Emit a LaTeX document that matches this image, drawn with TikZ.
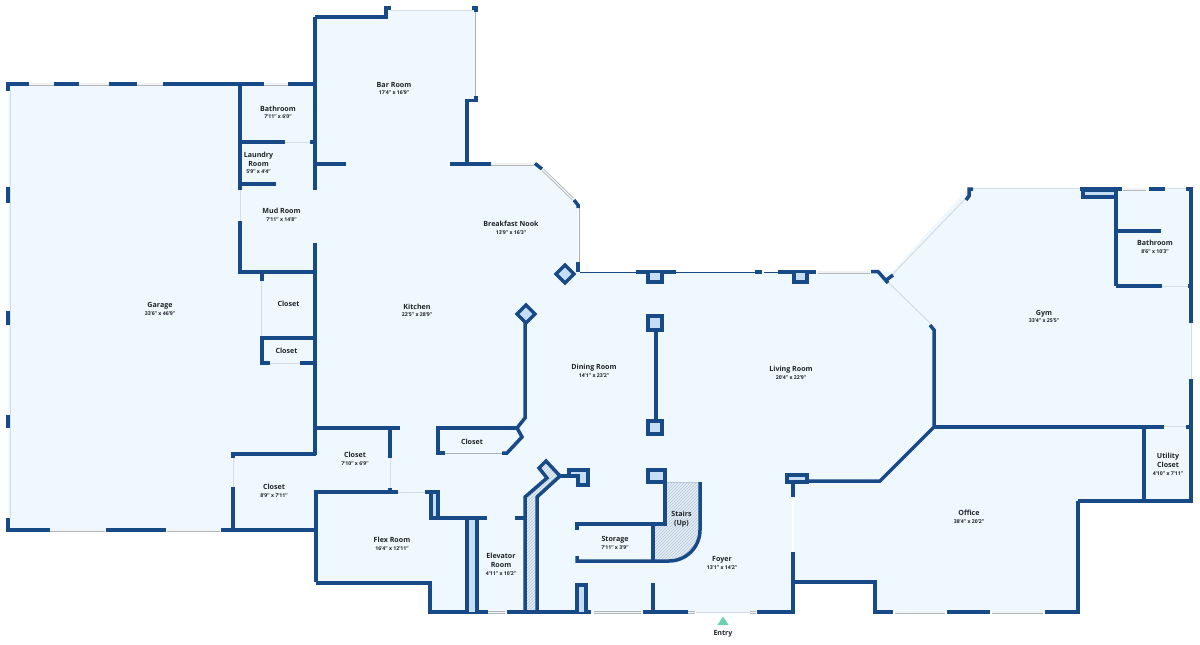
\documentclass[tikz,border=0pt]{standalone}
\usepackage{fontspec}
\setmainfont{Open Sans}
\usetikzlibrary{patterns}
\definecolor{wallc}{HTML}{174A87}
\definecolor{floorc}{HTML}{EFF8FE}
\definecolor{piec}{HTML}{C6DDF6}
\definecolor{hatchf}{HTML}{E2EDF7}
\definecolor{thinc}{HTML}{D6DCE1}
\definecolor{thind}{HTML}{A9B2BA}
\definecolor{winc}{HTML}{B4B8BC}
\definecolor{winl}{HTML}{F0F2F4}
\definecolor{hatchc}{HTML}{B7C7D6}
\definecolor{entryc}{HTML}{6CCFAE}
\definecolor{textc}{HTML}{20242A}
\tikzset{
  wall/.style={draw=wallc,line width=3.5pt,line cap=butt,line join=miter},
  fwall/.style={wall,fill=piec},
  thinw/.style={draw=thinc,line width=1pt},
  thindk/.style={draw=thind,line width=1pt},
  openw/.style={draw=white,line width=1.5pt},
  win/.style={draw=winc,line width=.9pt,double=winl,double distance=1.2pt},
  label/.style={text=textc,align=center,inner sep=0pt,font=\fontsize{7.1}{9}\selectfont\bfseries},
}
\newcommand{\dimtxt}[1]{\\[-1.6pt]{\fontsize{5.2}{6.2}\selectfont\bfseries #1}}
\begin{document}
\begin{tikzpicture}[x=1pt,y=-1pt]
\useasboundingbox (0,0) rectangle (1200,645);
% floor
\fill[floorc] (8,85) -- (315,85) -- (315,17) -- (387,17) -- (387,10) -- (475,10) -- (475,100) -- (467,100) -- (467,164) -- (538,164) -- (578,205) -- (578,272) -- (880,272) -- (892,272) -- (968,188) -- (1191,188) -- (1191,501) -- (1078,501) -- (1078,612) -- (875,612) -- (875,582) -- (793,582) -- (793,613) -- (430,613) -- (430,582) -- (316,582) -- (316,530) -- (8,530) -- cycle;
% thin walls (openings)
\draw[thinw] (10,90) -- (10,518);
\draw[thinw] (261,281) -- (261,338);
\draw[thinw] (270,363) -- (300,363);
\draw[thinw] (285,142) -- (310,142);
\draw[thinw] (391,10) -- (473,10);
\draw[thindk] (475,12) -- (475,96);
\draw[thindk] (579,205) -- (579,262);
\draw[wallc,line width=1pt] (580,272) -- (636,272);
\draw[wallc,line width=.8pt] (676,272.5) -- (755,272.5);
\draw[wallc,line width=.8pt] (764,272.5) -- (778,272.5);
\draw[thinw] (891,276) -- (965,199);
\draw[thinw] (889,283) -- (930,323);
\draw[thinw] (973,188.5) -- (1080,188.5);
\draw[thinw] (1165,188.5) -- (1186,188.5);
\draw[thinw] (1191,323) -- (1191,379);
\draw[thinw] (1162,286) -- (1188,286);
\draw[thinw] (1164,426) -- (1186,426);
\draw[thinw] (233,458) -- (233,487);
\draw[thinw] (390,458) -- (390,490);
\draw[thinw] (398,492) -- (425,492);
\draw[thindk] (445,453) -- (502,453);
\draw[thinw] (696,612.5) -- (750,612.5);
\draw[openw] (793,497) -- (793,552);
\draw[thinw] (240,190) -- (240,221);
% windows
\foreach \a/\b in {29/54,79/109,137/163,264/288}{\draw[win] (\a,84) -- (\b,84);}
\foreach \a/\b in {50/105,167/220}{\draw[win] (\a,530) -- (\b,530);}
\draw[win] (491,164) -- (534,164);
\draw[win] (543,170) -- (573,199);
\draw[win] (818,272) -- (870,272);
\draw[win] (1123,189) -- (1146,189);
\draw[win] (895,612) -- (945,612);
\draw[win] (992,612) -- (1043,612);
\draw[win] (594,612.5) -- (641,612.5);
\draw[win] (488,612.5) -- (505,612.5);
\draw[win] (688,612.5) -- (695,612.5);
\draw[win] (750,612.5) -- (756,612.5);
% garage
\draw[wall] (8,91) -- (8,84) -- (29,84);
\foreach \a/\b in {54/79,109/137,163/264,288/315}{\draw[wall] (\a,84) -- (\b,84);}
\foreach \a/\b in {187/203,311/325,415/428}{\draw[wall] (8,\a) -- (8,\b);}
\draw[wall] (8,518) -- (8,530) -- (50,530);
\draw[wall] (106,530) -- (166,530);
\draw[wall] (221,530) -- (316,530);
% service rooms
\draw[wall] (240,84) -- (240,190);
\draw[wall] (240,221) -- (240,272) -- (315,272);
\draw[wall] (315,17) -- (315,190);
\draw[wall] (315,243) -- (315,455);
\draw[wall] (240,142) -- (285,142);
\draw[wall] (310,142) -- (315,142);
\draw[wall] (240,184) -- (276,184);
\draw[wall] (315,164) -- (346,164);
\draw[wall] (262,272) -- (262,281);
\draw[wall] (315,338) -- (262,338) -- (262,363) -- (270,363);
\draw[wall] (300,363) -- (315,363);
% bar room
\draw[wall] (315,17) -- (386,17) -- (386,8) -- (391,8);
\draw[wall] (472,8) -- (476,8) -- (476,12);
\draw[wall] (476,96) -- (476,100.5) -- (467,100.5) -- (467,164);
\draw[wall] (450,164) -- (491,164);
\draw[wall] (535,163.5) -- (542,169);
\draw[wall] (574,200) -- (578,205) -- (578,208);
\draw[wall] (578,262) -- (578,272);
% closets left
\draw[wall] (233,487) -- (233,530);
\draw[wall] (233,458) -- (233,454) -- (316,454);
\draw[wall] (316,428) -- (400,428);
\draw[wall] (390,428) -- (390,458);
\draw[wall] (390,488) -- (390,492);
\draw[wall] (316,582) -- (316,492) -- (398,492);
\draw[wall] (316,583) -- (430,583) -- (430,612) -- (488,612);
% flex/elevator
\draw[fwall] (425,492) -- (438,492) -- (438,518) -- (431,518) -- (431,492);
\draw[wall] (431,518) -- (487,518);
\draw[wall] (515,518) -- (525,518);
\draw[fwall] (467,612) -- (467,518) -- (477,518) -- (477,612);
% shaft
\draw[wall,preaction={fill=hatchf},pattern=north east lines,pattern color=hatchc] (525,612) -- (525,497) -- (547,478) -- (539,468) -- (546,461) -- (560,476) -- (537,497) -- (537,612);
\draw[wall] (560,476) -- (570,476);
\draw[fwall] (569,476) -- (569,470) -- (588,470) -- (588,485) -- (578,485) -- (578,476) -- cycle;
\draw[wall] (507,612) -- (591,612);
\draw[fwall] (577,612) -- (577,585) -- (586,585) -- (586,612);
\draw[wall] (643,612) -- (688,612);
\draw[wall] (653,583) -- (653,612);
% kitchen closet + diamonds
\draw[wall] (445,453) -- (438,453) -- (438,428) -- (518,428);
\draw[wall] (502,453) -- (507,453) -- (522,437) -- (517,428) -- (525,418) -- (525,323);
\draw[fwall] (526,305) -- (535,314) -- (526,323) -- (517,314) -- cycle;
\draw[fwall] (565,265) -- (574,274) -- (565,283) -- (556,274) -- cycle;
% dining
\draw[wall] (636,272) -- (676,272);
\draw[fwall] (648,273) -- (648,282) -- (662,282) -- (662,273);
\draw[wall] (755,272) -- (762,272);
\draw[wall] (778,272) -- (816,272);
\draw[fwall] (794,273) -- (794,282) -- (807,282) -- (807,273);
\draw[wall] (656,330) -- (656,421);
\draw[fwall] (648,316) rectangle (662,330);
\draw[fwall] (648,421) rectangle (662,434);
\draw[wall] (871,271.5) -- (878,271.5) -- (888,283);
\draw[wall] (893,275) -- (885,281);
% stairs
\draw[draw=none,preaction={fill=hatchf},pattern=north east lines,pattern color=hatchc] (665,482) -- (700,482) -- (700,530) arc[start angle=0,end angle=90,radius=31] -- (653,561) -- (653,524) -- (665,524) -- cycle;
\draw[thinw,draw=hatchc] (665,482) -- (700,482);
\draw[wall] (700,482) -- (700,530) arc[start angle=0,end angle=90,radius=31] -- (577,561) -- (577,556);
\draw[wall] (665,482) -- (665,524) -- (577,524) -- (577,530);
\draw[wall] (653,524) -- (653,561);
\draw[fwall] (648,470) rectangle (665,482);
% foyer / right
\draw[wall] (757,612) -- (793,612) -- (793,552);
\draw[wall] (793,582) -- (875,582) -- (875,612) -- (893,612);
\draw[wall] (793,482) -- (793,497);
\draw[wall] (795,481) -- (880,481) -- (934,427);
\draw[fwall] (787,482) -- (787,475) -- (807,475) -- (807,482) -- cycle;
\draw[wall] (947,612) -- (990,612);
\draw[wall] (1045,612) -- (1078,612) -- (1078,501);
\draw[wall] (1078,501) -- (1191,501) -- (1191,379);
\draw[wall] (1144,427) -- (1144,501);
\draw[wall] (934,427) -- (1164,427);
\draw[wall] (1186,427) -- (1191,427);
\draw[wall] (930,325) -- (934,330) -- (934,427);
% gym
\draw[wall] (966,200) -- (969,196) -- (969,189) -- (973,189);
\draw[wall] (1080,189) -- (1122,189);
\draw[wall] (1149,189) -- (1165,189);
\draw[wall] (1186,189) -- (1191,189) -- (1191,323);
\draw[wall] (1116,189) -- (1116,286);
\draw[wall] (1116,231) -- (1161,231);
\draw[wall] (1116,286) -- (1162,286);
\draw[wall] (1188,286) -- (1191,286);
\draw[fwall] (1083,190) -- (1083,197) -- (1116,197) -- (1116,190) -- cycle;
% labels
\node[label] (lgarage) at (160,309) {Garage\dimtxt{33'6" x 46'9"}};
\node[label] (lbar) at (394,88.5) {Bar Room\dimtxt{17'4" x 16'9"}};
\node[label] (lbath1) at (278,112.5) {Bathroom\dimtxt{7'11" x 6'0"}};
\node[label] (llaundry) at (258.5,163) {Laundry\\Room\dimtxt{5'9" x 4'4"}};
\node[label] (lmud) at (281.5,215) {Mud Room\dimtxt{7'11" x 14'8"}};
\node[label] (lnook) at (511,228) {Breakfast Nook\dimtxt{13'9" x 16'3"}};
\node[label] (lkitchen) at (417,310.5) {Kitchen\dimtxt{22'5" x 28'9"}};
\node[label] (lc1) at (288.5,303.5) {Closet};
\node[label] (lc2) at (286.5,350.5) {Closet};
\node[label] (lc3) at (472,441.5) {Closet};
\node[label] (lc4) at (355,459) {Closet\dimtxt{7'10" x 6'9"}};
\node[label] (lc5) at (274,491) {Closet\dimtxt{8'9" x 7'11"}};
\node[label] (lflex) at (392,544) {Flex Room\dimtxt{16'4" x 12'11"}};
\node[label] (lelev) at (501,564.5) {Elevator\\Room\dimtxt{4'11" x 10'2"}};
\node[label] (ldining) at (594,371) {Dining Room\dimtxt{14'1" x 23'2"}};
\node[label] (lliving) at (791,373) {Living Room\dimtxt{20'4" x 22'9"}};
\node[label] (lstorage) at (615,543) {Storage\dimtxt{7'11" x 3'9"}};
\node[label] (lstairs) at (681.5,519) {Stairs\\(Up)};
\node[label] (lfoyer) at (722,563) {Foyer\dimtxt{13'1" x 14'2"}};
\node[label] (loffice) at (969,517) {Office\dimtxt{38'4" x 20'2"}};
\node[label] (lutil) at (1168,464.5) {Utility\\Closet\dimtxt{4'10" x 7'11"}};
\node[label] (lgym) at (1044,316.5) {Gym\dimtxt{33'4" x 25'5"}};
\node[label] (lbath2) at (1155,247) {Bathroom\dimtxt{8'6" x 10'3"}};
\fill[entryc] (723,616.5) -- (728.5,625) -- (717.5,625) -- cycle;
\node[label] (lentry) at (723,634) {Entry};
\end{tikzpicture}
\end{document}
